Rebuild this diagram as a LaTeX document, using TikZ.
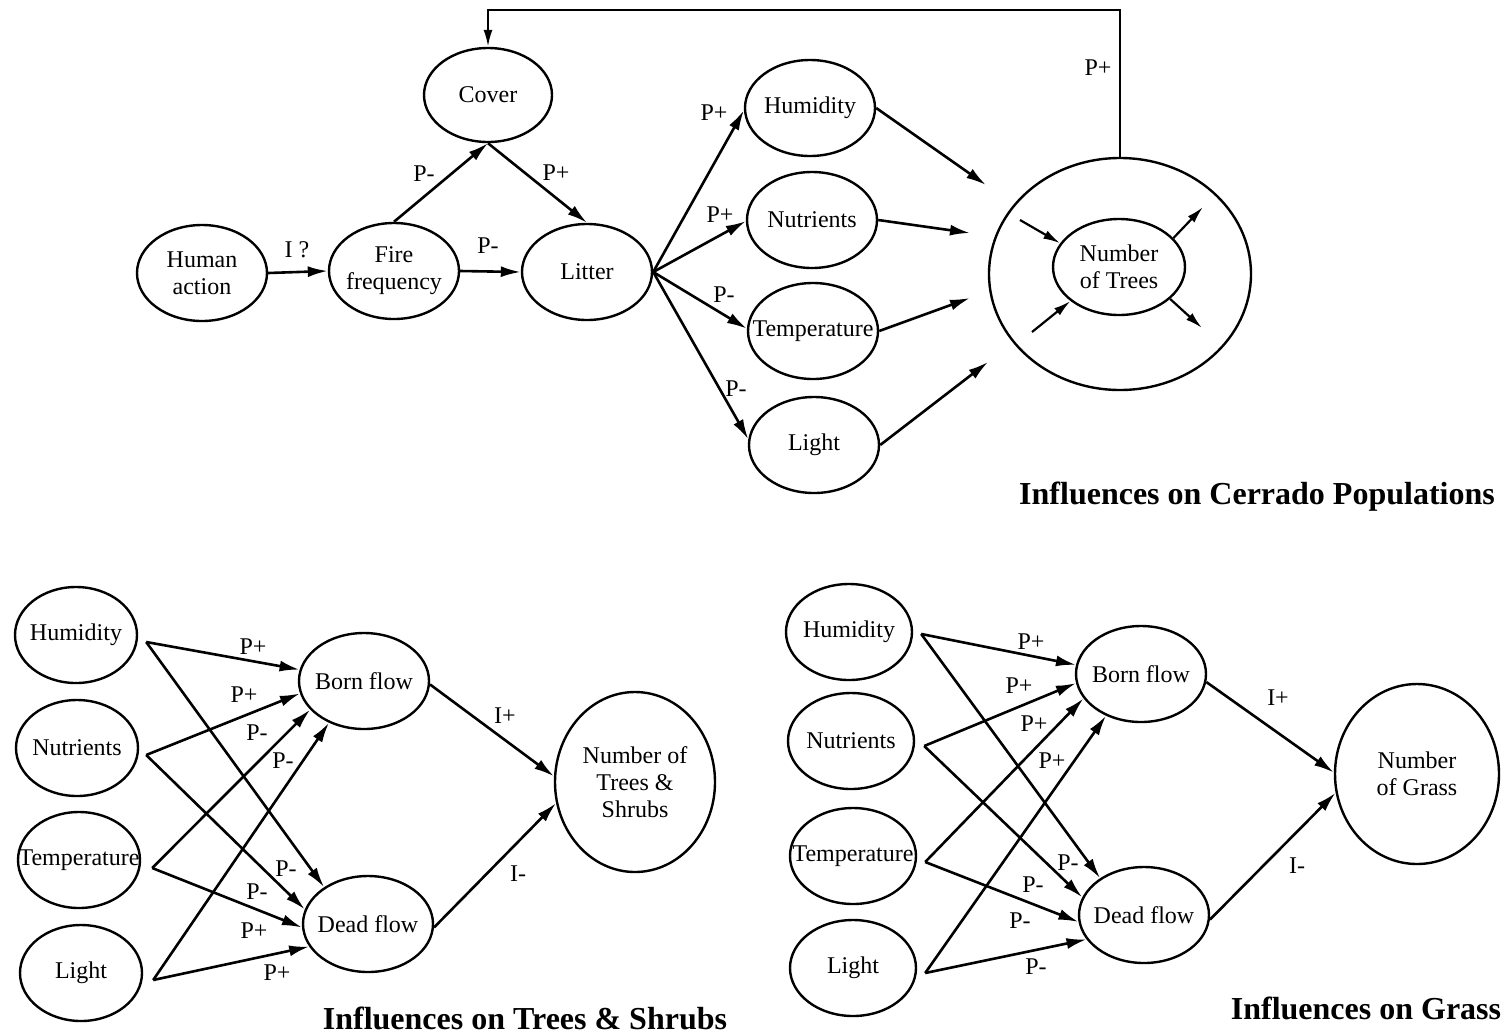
\documentclass[tikz,border=0pt]{standalone}
\usepackage{fontspec}
\setmainfont{Liberation Serif}
\usetikzlibrary{shapes.geometric,arrows.meta,calc}
% text that may stick out of its ellipse without widening it
\newcommand{\nw}[1]{\makebox[0pt]{#1}}
\begin{document}
\begin{tikzpicture}[x=1pt,y=-1pt,
  every node/.style={font=\fontsize{24}{27}\selectfont},
  ell/.style={draw, ellipse, line width=2.4pt, inner sep=0pt,
              minimum width=130pt, minimum height=96pt, align=center},
  conn/.style={line width=2.6pt, -{Latex[length=20pt,width=11pt]}},
  thin conn/.style={line width=2.2pt, -{Latex[length=17pt,width=9pt]}},
  lbl/.style={font=\fontsize{24}{27}\selectfont, inner sep=0pt},
  ttl/.style={font=\bfseries\fontsize{32}{38}\selectfont, inner sep=0pt}]
\useasboundingbox (0,0) rectangle (1504,1034);

% ---------------- Influences on Cerrado Populations ----------------
\node[ell] (human)  at (202,273) {Human\\action};
\node[ell] (fire)   at (394,271) {Fire\\\nw{frequency}};
\node[ell, minimum width=128pt, minimum height=94pt] (cover) at (488,95) {Cover};
\node[ell] (litter) at (587,272) {Litter};
\node[ell] (thum)  at (810,108) {\nw{Humidity}};
\node[ell] (tnut)  at (812,220) {\nw{Nutrients}};
\node[ell] (ttemp) at (813,331) {\nw{Temperature}};
\node[ell] (tlig)  at (814,445) {Light};
\node[draw, ellipse, line width=2.4pt, minimum width=262pt, minimum height=232pt] (pop) at (1120,274) {};
\node[ell, minimum width=132pt] (trees) at (1119,267) {Number\\of Trees};

\draw[conn] (human.east) -- (fire.west);
\draw[conn] (fire.north) -- (cover.south);
\draw[conn] (cover.south) -- (litter.north);
\draw[conn] (fire.east) -- (litter.west);
\draw[conn] (litter.east) -- (thum.182);
\draw[conn] (litter.east) -- (tnut.181);
\draw[conn] (litter.east) -- (ttemp.178);
\draw[conn] (litter.east) -- (tlig.175);

\coordinate (inH) at (986,185);
\coordinate (inN) at (970,233);
\coordinate (inT) at (970,298);
\coordinate (inL) at (988,362);
\draw[conn] (thum.east) -- (inH);
\draw[conn] (tnut.east) -- (inN);
\draw[conn] (ttemp.east) -- (inT);
\draw[conn] (tlig.east) -- (inL);

\coordinate (ulA) at (1020,220);
\coordinate (llA) at (1032,332);
\coordinate (urA) at (1203,207);
\coordinate (lrA) at (1202,328);
\draw[thin conn] (ulA) -- (trees.158);
\draw[thin conn] (llA) -- (trees.215);
\draw[thin conn] (trees.28) -- (urA);
\draw[thin conn] (trees.-32) -- (lrA);

\coordinate (fbtop) at (0,10);
\draw[thin conn] (pop.north) |- (cover.north |- fbtop) -- (cover.north);

\node[lbl] (l1) at (297,250) {I ?};
\node[lbl] (l2) at (424,174) {P-};
\node[lbl] (l3) at (556,173) {P+};
\node[lbl] (l4) at (488,246) {P-};
\node[lbl] (l5) at (714,113) {P+};
\node[lbl] (l6) at (720,215) {P+};
\node[lbl] (l7) at (724,295) {P-};
\node[lbl] (l8) at (736,389) {P-};
\node[lbl] (l9) at (1098,68) {P+};

\node[ttl] (t1) at (1257,497) {Influences on Cerrado Populations};

% ---------------- Influences on Trees & Shrubs ----------------
\begin{scope}[ell/.append style={minimum width=122pt, minimum height=96pt}]
\node[ell] (ahum)  at (76,635)  {\nw{Humidity}};
\node[ell] (anut)  at (77,748)  {\nw{Nutrients}};
\node[ell] (atemp) at (79,860)  {\nw{Temperature}};
\node[ell] (alig)  at (81,973)  {Light};
\end{scope}
\node[ell] (aborn) at (364,681) {\nw{Born flow}};
\node[ell] (adead) at (368,924) {\nw{Dead flow}};
\node[ell, minimum width=160pt, minimum height=180pt] (anum) at (635,782) {Number of\\Trees \&\\Shrubs};

\draw[conn] ($(ahum.east)+(8,7)$)  -- (aborn.170);
\draw[conn] ($(ahum.east)+(8,7)$)  -- (adead.140);
\draw[conn] ($(anut.east)+(7,7)$)  -- (aborn.191);
\draw[conn] ($(anut.east)+(7,7)$)  -- (adead.167);
\draw[conn] ($(atemp.east)+(11,8)$) -- (aborn.208);
\draw[conn] ($(atemp.east)+(11,8)$) -- (adead.183);
\draw[conn] ($(alig.east)+(10,7)$) -- (aborn.230);
\draw[conn] ($(alig.east)+(10,7)$) -- (adead.201);
\draw[conn] (aborn.-3) -- (anum.176);
\draw[conn] (adead.-3) -- (anum.195);

\node[lbl] (a1) at (253,647) {P+};
\node[lbl] (a2) at (244,695) {P+};
\node[lbl] (a3) at (257,733) {P-};
\node[lbl] (a4) at (283,761) {P-};
\node[lbl] (a5) at (286,869) {P-};
\node[lbl] (a6) at (257,892) {P-};
\node[lbl] (a7) at (254,931) {P+};
\node[lbl] (a8) at (277,973) {P+};
\node[lbl] (a9) at (505,716) {I+};
\node[lbl] (a10) at (518,874) {I-};

\node[ttl] (t2) at (525,1018) {Influences on Trees \& Shrubs};

% ---------------- Influences on Grass ----------------
\begin{scope}[ell/.append style={minimum width=126pt, minimum height=96pt}]
\node[ell] (bhum)  at (849,632)  {\nw{Humidity}};
\node[ell] (bnut)  at (851,741)  {\nw{Nutrients}};
\node[ell] (btemp) at (853,856)  {\nw{Temperature}};
\node[ell] (blig)  at (853,968)  {Light};
\end{scope}
\node[ell] (bborn) at (1141,674) {\nw{Born flow}};
\node[ell] (bdead) at (1144,915) {\nw{Dead flow}};
\node[ell, minimum width=164pt, minimum height=180pt] (bnum) at (1417,774) {Number\\of Grass};

\draw[conn] ($(bhum.east)+(8,2)$)  -- (bborn.172);
\draw[conn] ($(bhum.east)+(8,2)$)  -- (bdead.140);
\draw[conn] ($(bnut.east)+(9,5)$)  -- (bborn.188);
\draw[conn] ($(bnut.east)+(9,5)$)  -- (bdead.164);
\draw[conn] ($(btemp.east)+(8,6)$) -- (bborn.203);
\draw[conn] ($(btemp.east)+(8,6)$) -- (bdead.186);
\draw[conn] ($(blig.east)+(8,5)$)  -- (bborn.230);
\draw[conn] ($(blig.east)+(8,5)$)  -- (bdead.203);
\draw[conn] (bborn.-7) -- (bnum.179);
\draw[conn] (bdead.-4) -- (bnum.193);

\node[lbl] (b1) at (1031,642) {P+};
\node[lbl] (b2) at (1019,686) {P+};
\node[lbl] (b3) at (1034,724) {P+};
\node[lbl] (b4) at (1052,761) {P+};
\node[lbl] (b5) at (1068,863) {P-};
\node[lbl] (b6) at (1033,885) {P-};
\node[lbl] (b7) at (1020,921) {P-};
\node[lbl] (b8) at (1036,967) {P-};
\node[lbl] (b9) at (1278,698) {I+};
\node[lbl] (b10) at (1297,866) {I-};

\node[ttl] (t3) at (1366,1008) {Influences on Grass};
\end{tikzpicture}
\end{document}
